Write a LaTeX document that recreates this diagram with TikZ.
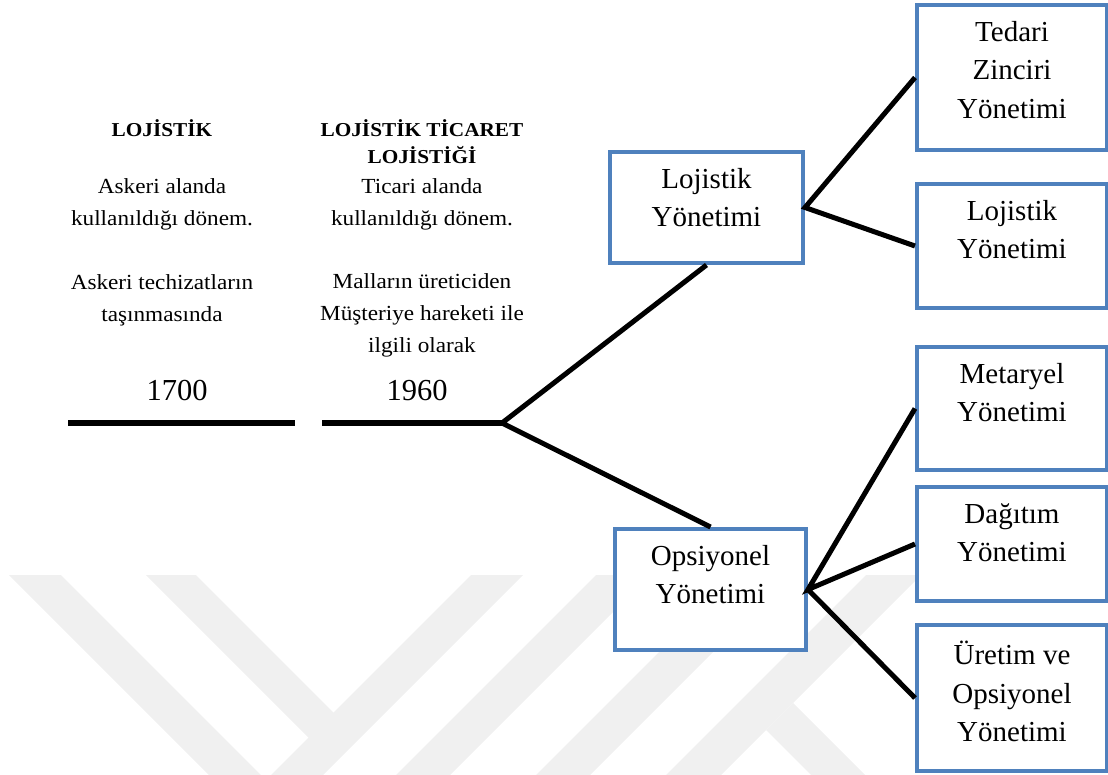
\documentclass[tikz,border=0pt]{standalone}
\usepackage{fontspec}
\setmainfont{Liberation Serif}
\newfontfamily\widefont[FakeStretch=1.08]{Liberation Serif}
\usepackage{xcolor}
\usepackage{tikz}
\usetikzlibrary{positioning}
\definecolor{boxblue}{HTML}{4F81BD}
\definecolor{wmgray}{HTML}{F0F0F0}

\begin{document}
\begin{tikzpicture}[x=1pt,y=-1pt,
  box/.style={draw=boxblue,line width=4pt,fill=white,minimum width=190pt,inner sep=0pt},
  btxt/.style={align=center,inner sep=0pt,font=\fontsize{29}{38.5}\selectfont},
  head/.style={align=center,inner sep=0pt,anchor=base,font=\widefont\bfseries\fontsize{19.7}{27.5}\selectfont},
  body/.style={align=center,inner sep=0pt,anchor=base,font=\widefont\fontsize{21.5}{32}\selectfont},
  year/.style={inner sep=0pt,anchor=base,font=\fontsize{30.5}{36}\selectfont},
  bar/.style={line width=5.5pt,black},
  link/.style={line width=5pt,black,line join=miter},
  wm/.style={fill=wmgray}
]
\useasboundingbox (0,0) rectangle (1108,775);
% watermark in the background
\fill[wm] (9,575) -- (61,575) -- (261,775) -- (209,775) -- cycle;
\fill[wm] (146,575) -- (196,575) -- (358,737) -- (333,762) -- cycle;
\fill[wm] (471,575) -- (523,575) -- (323,775) -- (271,775) -- cycle;
\fill[wm] (596,575) -- (650,575) -- (450,775) -- (396,775) -- cycle;
\fill[wm] (736,575) -- (790,575) -- (590,775) -- (536,775) -- cycle;
\fill[wm] (866,575) -- (921,575) -- (721,775) -- (666,775) -- cycle;
\fill[wm] (766,730) -- (793,703) -- (865,775) -- (811,775) -- cycle;
% timeline
\coordinate (t1a) at (68,423);
\coordinate (t1b) at (295,423);
\coordinate (t2a) at (322,423);
\coordinate (fork) at (502,423);
\draw[bar] (t1a) -- (t1b);
\draw[bar] (t2a) -- (fork);
% 1700 column (base = last line)
\node[head] (h1) at (162,137) {LOJİSTİK};
\node[body] (a1) at (162,226) {Askeri alanda\\kullanıldığı dönem.};
\node[body] (a2) at (162,322) {Askeri techizatların\\taşınmasında};
\node[year] (y1) at (177,400) {1700};
% 1960 column
\node[head] (h2) at (422,164) {LOJİSTİK TİCARET\\LOJİSTİĞİ};
\node[body] (b1) at (422,226) {Ticari alanda\\kullanıldığı dönem.};
\node[body] (b2) at (422,353) {Malların üreticiden\\Müşteriye hareketi ile\\ilgili olarak};
\node[year] (y2) at (417,400) {1960};
% boxes
\node[box,minimum width=193pt,minimum height=111pt] (lm) at (706.5,207.5) {};
\node[box,minimum width=191pt,minimum height=121pt] (om) at (710.5,589.5) {};
\node[box,minimum height=145pt] (tz) at (1012,77.5) {};
\node[box,minimum height=124pt] (ly) at (1012,246) {};
\node[box,minimum height=123pt] (my) at (1012,408.5) {};
\node[box,minimum height=114pt] (dy) at (1012,544) {};
\node[box,minimum height=146pt] (uy) at (1012,698) {};
\node[btxt,below=18pt of lm.north] (lmt) {Lojistik\\Yönetimi};
\node[btxt,below=18pt of om.north] (omt) {Opsiyonel\\Yönetimi};
\node[btxt,below=18pt of tz.north] (tzt) {Tedari\\Zinciri\\Yönetimi};
\node[btxt,below=18pt of ly.north] (lyt) {Lojistik\\Yönetimi};
\node[btxt,below=18pt of my.north] (myt) {Metaryel\\Yönetimi};
\node[btxt,below=18pt of dy.north] (dyt) {Dağıtım\\Yönetimi};
\node[btxt,below=18pt of uy.north] (uyt) {Üretim ve\\Opsiyonel\\Yönetimi};
% connectors
\draw[link] (lm.south) -- (fork) -- (om.north);
\draw[link] (tz.west) -- (lm.east) -- (ly.west);
\draw[link] (my.west) -- (om.east) -- (dy.west);
\draw[link] (om.east) -- (uy.west);
\end{tikzpicture}
\end{document}
